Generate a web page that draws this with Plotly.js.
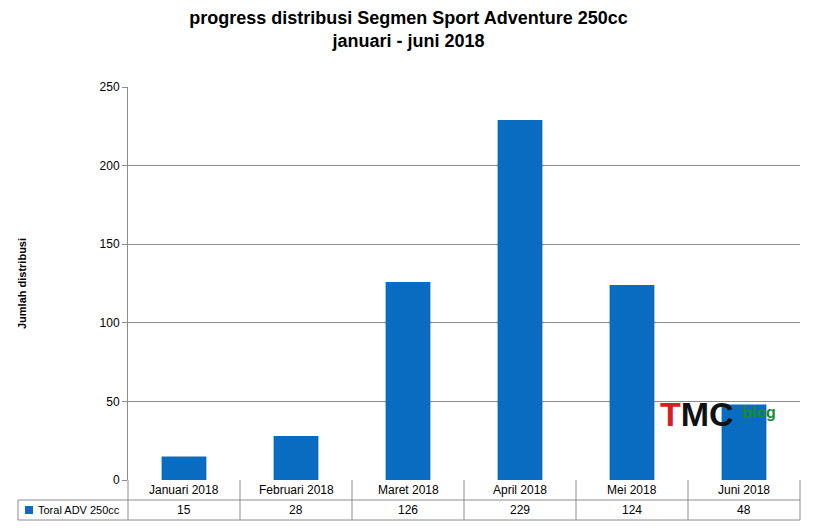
<!DOCTYPE html>
<html>
<head>
<meta charset="utf-8">
<script src="https://cdn.plot.ly/plotly-3.0.1.min.js"></script>
<style>body{margin:0;background:#fff}</style>
</head>
<body>
<div id="chart" style="width:817px;height:530px"></div>
<script>
const months = ["Januari 2018", "Februari 2018", "Maret 2018", "April 2018", "Mei 2018", "Juni 2018"];
const totals = [15, 28, 126, 229, 124, 48];
const seriesName = "Toral ADV 250cc";
const barColor = "#0a6cc0";

// table geometry in paper units (plot area 672 x 393 px)
const rowA = -20 / 393, rowB = -40 / 393, left = -110 / 672;
const line = {color: "#8c8c8c", width: 1};
const shapes = [
  {type: "line", xref: "paper", yref: "paper", x0: left, x1: 1, y0: rowA, y1: rowA, line},
  {type: "line", xref: "paper", yref: "paper", x0: left, x1: 1, y0: rowB, y1: rowB, line},
  {type: "line", xref: "paper", yref: "paper", x0: left, x1: left, y0: rowA, y1: rowB, line},
  {type: "rect", xref: "paper", yref: "paper", x0: -103 / 672, x1: -95 / 672, y0: -34 / 393, y1: -26 / 393,
   fillcolor: barColor, line: {width: 0}}
];
for (let i = 0; i <= months.length; i++) {
  shapes.push({type: "line", xref: "paper", yref: "paper", x0: i / months.length, x1: i / months.length,
    y0: 0, y1: rowB, line});
}
const annotations = [
  {xref: "paper", yref: "paper", x: -92 / 672, y: -30 / 393, xanchor: "left", yanchor: "middle",
   text: seriesName, showarrow: false, font: {size: 11}}
];
months.forEach((m, i) => {
  annotations.push({x: m, xref: "x", yref: "paper", y: -10 / 393, yanchor: "middle", text: m, showarrow: false, font: {size: 12}});
  annotations.push({x: m, xref: "x", yref: "paper", y: -30 / 393, yanchor: "middle", text: String(totals[i]), showarrow: false, font: {size: 12}});
});
annotations.push({xref: "paper", yref: "paper", x: 530 / 672, y: 0.115, xanchor: "left", showarrow: false,
  text: "<b><span style='color:#d81e1e'>T</span>MC</b>", font: {size: 34, color: "#111"}});
annotations.push({xref: "paper", yref: "paper", x: 612 / 672, y: 0.145, xanchor: "left", showarrow: false,
  text: "<b>blog</b>", font: {size: 16, color: "#1a8a2a"}});

Plotly.newPlot("chart", [{
  type: "bar", x: months, y: totals, name: seriesName,
  marker: {color: barColor}, width: 0.4
}], {
  width: 817, height: 530,
  margin: {l: 128, r: 17, t: 87, b: 50},
  font: {family: "Liberation Sans, Arial, sans-serif", color: "#000"},
  title: {text: "<b>progress distribusi Segmen Sport Adventure 250cc<br>januari - juni 2018</b>",
    x: 0.5, xref: "container", y: 0.955, yanchor: "top", font: {size: 18}},
  showlegend: false,
  xaxis: {showticklabels: false, ticks: "", showline: false, showgrid: false},
  yaxis: {range: [0, 250], dtick: 50, showgrid: true, gridcolor: "#8c8c8c", showline: true, linecolor: "#8c8c8c",
    ticks: "outside", ticklen: 5, tickcolor: "#8c8c8c", tickfont: {size: 12}, zeroline: false,
    title: {text: "<b>Jumlah distribusi</b>", font: {size: 11}, standoff: 70}},
  shapes, annotations
}, {displayModeBar: false});
</script>
</body>
</html>
